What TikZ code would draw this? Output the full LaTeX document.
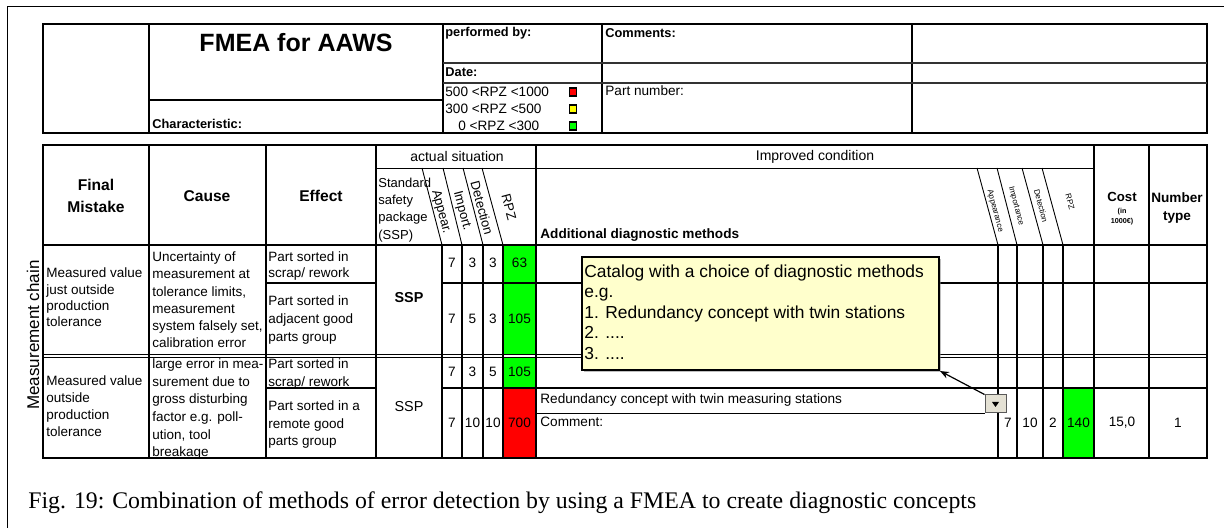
\documentclass[tikz,border=0pt]{standalone}
\usepackage{fontspec}
\setmainfont{Liberation Sans}
\newfontfamily\captionserif{Liberation Serif}
\usetikzlibrary{arrows.meta,calc,shadows}
\definecolor{rpzgreen}{HTML}{00FF00}
\definecolor{rpzred}{HTML}{FF0000}
\definecolor{rpzyellow}{HTML}{FFFF00}
\definecolor{notefill}{HTML}{FFFFCC}
\definecolor{btnfill}{HTML}{E4E1D4}

\begin{document}
\begin{tikzpicture}[x=0.5pt, y=-0.5pt,
  every node/.style={inner sep=0},
  frame/.style={line width=1pt},
  midrule/.style={line width=0.7pt},
  rule/.style={line width=0.45pt},
  boldlabel/.style={anchor=west, font=\fontsize{6.4}{8}\selectfont\bfseries},
  plainlabel/.style={anchor=west, font=\fontsize{6.8}{8}\selectfont},
  headtext/.style={align=center, font=\fontsize{7.8}{11}\selectfont\bfseries},
  celltext/.style={anchor=north west, align=left, font=\fontsize{6.75}{8.6}\selectfont},
  numtext/.style={font=\fontsize{6.8}{8}\selectfont},
  slantlabel/.style={rotate=-75, font=\fontsize{6.5}{8}\selectfont},
  tinyslant/.style={rotate=-75, font=\fontsize{4}{5}\selectfont},
  legendbox/.style={draw=black, line width=0.8pt, minimum width=3.6pt, minimum height=4.2pt},
  catalog/.style={draw=black, line width=1pt, fill=notefill, minimum width=178.5pt, minimum height=56.5pt,
    anchor=north west, drop shadow={shadow xshift=0.8pt, shadow yshift=-0.8pt, opacity=0.5}},
  dropbtn/.style={draw=gray!70!black, fill=btnfill, line width=0.5pt, minimum width=10.5pt, minimum height=9pt},
  pointer/.style={-{Stealth[length=4.5pt, width=3.5pt]}, line width=0.6pt},
]
\useasboundingbox (0,0) rectangle (1224,528);

% Page frame
\draw[rule] (7,528) -- (7,6) -- (1224,6);

% Title block
\draw[frame] (43,24) rectangle (1207,133);
\draw[frame] (149,24) -- (149,133) (443,24) -- (443,133) (602,24) -- (602,133) (912,24) -- (912,133);
\draw[frame] (149,100) -- (443,100);
\draw[midrule, black!80] (443,63) -- (1207,63) (443,83) -- (1207,83);

\node[font=\fontsize{12.5}{14}\selectfont\bfseries] (title) at (296,43) {FMEA for AAWS};
\node[boldlabel] (charact) at (152,124) {Characteristic:};
\node[boldlabel] (perfby) at (445,33) {performed by:};
\node[boldlabel] (comments) at (605,33) {Comments:};
\node[boldlabel] (date) at (445,72) {Date:};
\node[plainlabel] (lgred) at (445,92) {500 <RPZ <1000};
\node[plainlabel] (lgyellow) at (445,109) {300 <RPZ <500};
\node[plainlabel] (lggreen) at (458,126) {0 <RPZ <300};
\node[legendbox, fill=rpzred] (sqred) at (573,92) {};
\node[legendbox, fill=rpzyellow] (sqyellow) at (573,109) {};
\node[legendbox, fill=rpzgreen] (sqgreen) at (573,126) {};
\node[plainlabel] (partno) at (605,91) {Part number:};

% RPZ fills
\fill[rpzgreen] (503,245) rectangle (536,354);
\fill[rpzgreen] (503,357) rectangle (536,388);
\fill[rpzred] (503,388) rectangle (536,459);
\fill[rpzgreen] (1063,388) rectangle (1094,459);

% Main table grid
\draw[frame] (43,145) rectangle (1207,458);
\draw[frame] (149,145) -- (149,458) (266,145) -- (266,458) (376,145) -- (376,458)
  (536,145) -- (536,458) (1094,145) -- (1094,458) (1149,145) -- (1149,458);
\draw[rule] (376,168) -- (1094,168);
\draw[frame] (43,245) -- (1207,245);
\draw[rule] (422,168) -- (442,245) (443,168) -- (462,245) (463,168) -- (483,245) (482,168) -- (503,245);
\draw[rule] (977,168) -- (998,245) (997,168) -- (1017,245) (1022,168) -- (1043,245) (1042,168) -- (1063,245);
\draw[midrule] (442,245) -- (442,458) (462,245) -- (462,458) (483,245) -- (483,458) (503,245) -- (503,458);
\draw[midrule] (998,245) -- (998,458) (1017,245) -- (1017,458) (1043,245) -- (1043,458) (1063,245) -- (1063,458);
\draw[midrule] (266,283) -- (376,283) (442,283) -- (1207,283);
\draw[rule] (43,354) -- (1207,354) (43,357) -- (1207,357);
\draw[midrule] (266,388) -- (376,388) (442,388) -- (1207,388);
\draw[rule] (536,413) -- (985,413);

% Column heads
\node[font=\fontsize{7}{8}\selectfont] (actual) at (457,157) {actual situation};
\node[font=\fontsize{7}{8}\selectfont] (improved) at (815,157) {Improved condition};
\node[headtext] (hfinal) at (96,196) {Final\\Mistake};
\node[headtext] (hcause) at (207,196) {Cause};
\node[headtext] (heffect) at (321,196) {Effect};
\node[celltext, font=\fontsize{6.5}{8.65}\selectfont] (hssp) at (378,177.5) {Standard\\safety\\package\\(SSP)};
\node[slantlabel] (happear) at (441,212) {Appear.};
\node[slantlabel] (himport) at (462,211) {Import.};
\node[slantlabel] (hdetect) at (482,208) {Detection};
\node[slantlabel] (hrpz) at (509,207) {RPZ};
\node[anchor=west, font=\fontsize{6.8}{8}\selectfont\bfseries] (hmethods) at (540,235) {Additional diagnostic methods};
\node[tinyslant] (happear2) at (995,211) {Appearance};
\node[tinyslant] (himport2) at (1016,206) {Importance};
\node[tinyslant] (hdetect2) at (1041,206) {Detection};
\node[tinyslant] (hrpz2) at (1070,202) {RPZ};
\node[font=\fontsize{6.6}{8}\selectfont\bfseries] (hcost) at (1122,197) {Cost};
\node[font=\fontsize{3.6}{5}\selectfont\bfseries, align=center] (hcostunit) at (1122,216.5) {(in\\1000€)};
\node[headtext, font=\fontsize{6.8}{9}\selectfont\bfseries] (hnumber) at (1177,208) {Number\\type};

% Side label
\node[rotate=90, font=\fontsize{8.5}{10}\selectfont] (chain) at (33,335) {Measurement chain};

% First failure
\node[celltext, font=\fontsize{6.75}{8.2}\selectfont] (final1) at (46,267.5) {Measured value\\just outside\\production\\tolerance};
\node[celltext] (cause1) at (152,251.5) {Uncertainty of\\measurement at\\tolerance limits,\\measurement\\system falsely set,\\calibration error};
\node[celltext, font=\fontsize{6.75}{8}\selectfont] (effect1a) at (268,251.5) {Part sorted in\\scrap/ rework};
\node[celltext, font=\fontsize{6.75}{9}\selectfont] (effect1b) at (268,295.5) {Part sorted in\\adjacent good\\parts group};
\node[font=\fontsize{7.2}{8}\selectfont\bfseries] (ssp1) at (409,298) {SSP};
\node[numtext] (a1) at (452,263) {7};
\node[numtext] (i1) at (472.5,263) {3};
\node[numtext] (d1) at (493,263) {3};
\node[numtext] (r1) at (519.5,263) {63};
\node[numtext] (a2) at (452,319) {7};
\node[numtext] (i2) at (472.5,319) {5};
\node[numtext] (d2) at (493,319) {3};
\node[numtext] (r2) at (519.5,319) {105};

% Second failure
\node[celltext, font=\fontsize{6.75}{8.5}\selectfont] (final2) at (46,375.5) {Measured value\\outside\\production\\tolerance};
\node[celltext, font=\fontsize{6.75}{8.8}\selectfont] (cause2) at (152,358.5) {large error in mea-\\surement due to\\gross disturbing\\factor e.g. poll-\\ution, tool\\breakage};
\node[celltext, font=\fontsize{6.75}{9}\selectfont] (effect2a) at (268,358.5) {Part sorted in\\scrap/ rework};
\node[celltext, font=\fontsize{6.75}{8.75}\selectfont] (effect2b) at (268,400.5) {Part sorted in a\\remote good\\parts group};
\node[font=\fontsize{7.2}{8}\selectfont] (ssp2) at (409,407) {SSP};
\node[numtext] (a3) at (452,372) {7};
\node[numtext] (i3) at (472.5,372) {3};
\node[numtext] (d3) at (493,372) {5};
\node[numtext] (r3) at (519.5,372) {105};
\node[numtext] (a4) at (452,423) {7};
\node[numtext] (i4) at (472.5,423) {10};
\node[numtext] (d4) at (493,423) {10};
\node[numtext] (r4) at (519.5,423) {700};

% Improved condition
\node[plainlabel] (method) at (540,400) {Redundancy concept with twin measuring stations};
\node[plainlabel] (comment) at (540,422) {Comment:};
\node[numtext] (a5) at (1008,423) {7};
\node[numtext] (i5) at (1030,423) {10};
\node[numtext] (d5) at (1053,423) {2};
\node[numtext] (r5) at (1078.5,423) {140};
\node[numtext] (cost) at (1122,423) {15,0};
\node[numtext] (ntype) at (1178,423) {1};

% Catalog note
\node[catalog] (catalog) at (581,256) {};
\node[anchor=north west, align=left, font=\fontsize{8.7}{10.25}\selectfont] (catalogtext) at (584,264)
  {Catalog with a choice of diagnostic methods\\e.g.\\1. Redundancy concept with twin stations\\2. ....\\3. ....};
\node[dropbtn] (drop) at (995.5,404) {};
\fill ([shift={(-3.5,-2)}]drop.center) -- ++(7,0) -- ++(-3.5,5) -- cycle;
\draw[pointer] (drop.north west) -- (catalog.south east);

% Caption
\node[anchor=west, font=\captionserif\fontsize{11.9}{14}\selectfont] (caption) at (28,503)
  {Fig. 19: Combination of methods of error detection by using a FMEA to create diagnostic concepts};
\end{tikzpicture}
\end{document}
